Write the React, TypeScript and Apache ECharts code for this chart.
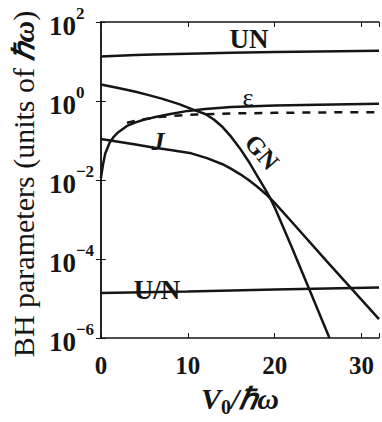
import React, { useEffect, useRef } from 'react';
import * as echarts from 'echarts';

// x positions (V0 / ħω) and values for each curve
const unV = [0, 2, 4, 6, 10, 15, 20, 25, 32];
const unVals = [13.4, 14.0, 14.6, 15.1, 15.8, 16.6, 17.3, 17.9, 18.6];

const uOverNV = [0, 10, 20, 32];
const uOverNVals = [1.38e-5, 1.51e-5, 1.68e-5, 1.9e-5];

const epsV = [0, 0.25, 0.5, 1, 1.5, 2, 3, 4, 5, 6, 8, 10, 12, 15, 20, 25, 32];
const epsVals = [0.0112, 0.0251, 0.0468, 0.0871, 0.126, 0.162, 0.234, 0.288, 0.339, 0.38, 0.468, 0.562, 0.631, 0.7, 0.767, 0.809, 0.851];

const dashV = [3, 4.5, 6.5, 9, 11, 15, 20, 25, 32];
const dashVals = [0.282, 0.331, 0.389, 0.432, 0.457, 0.484, 0.501, 0.513, 0.522];

const gnV = [0, 2, 4, 5.5, 7, 9, 10.4, 11, 12, 13, 14, 15, 16, 17, 18, 19, 19.5, 20, 20.5, 22, 24, 26.3];
const gnVals = [2.61, 2.14, 1.72, 1.41, 1.15, 0.832, 0.631, 0.562, 0.468, 0.339, 0.219, 0.123, 0.0631, 0.0295, 0.0126, 0.00537, 0.00339, 0.002, 0.00112, 1.905e-4, 1.66e-5, 1e-6];

const jV = [0, 2, 4, 6, 8, 10.4, 12.2, 14, 15, 16, 17, 18, 19, 20, 22, 26, 32];
const jVals = [0.1086, 0.0933, 0.0794, 0.0661, 0.0575, 0.0473, 0.0358, 0.0251, 0.01905, 0.01413, 0.01, 0.00676, 0.004365, 0.00263, 8.51e-4, 8.71e-5, 3.02e-6];

const xTicks = [0, 10, 20, 30];
const yTickExponents = [-6, -4, -2, 0, 2];

const SERIF = "'Liberation Serif', 'Times New Roman', serif";
const INK = '#151515';

const pairs = (xs: number[], ys: number[]) => xs.map((x, i) => [x, ys[i]]);

export default function App() {
  const ref = useRef<HTMLDivElement>(null);
  useEffect(() => {
    if (!ref.current) return;
    const chart = echarts.init(ref.current, undefined, { renderer: 'svg' });
    const lineBase = {
      type: 'line' as const,
      showSymbol: false,
      symbol: 'none',
      smooth: false,
      lineStyle: { color: INK, width: 2.5 },
      xAxisIndex: 0,
      yAxisIndex: 0,
    };
    const supText = (e: number) => (e < 0 ? '\u2212' + String(-e) : String(e));
    chart.setOption({
      animation: false,
      backgroundColor: '#ffffff',
      grid: { left: 97, top: 22, right: -2, bottom: 68, containLabel: false },
      xAxis: [
        {
          type: 'value',
          min: 0,
          max: 32,
          interval: 10,
          position: 'bottom',
          axisLine: { show: true, lineStyle: { color: INK, width: 1.5 } },
          axisTick: { show: true, inside: true, length: 5, lineStyle: { color: INK, width: 1 } },
          splitLine: { show: false },
          axisLabel: {
            margin: 15,
            fontFamily: SERIF,
            fontWeight: 'bold',
            fontSize: 25,
            color: INK,
            formatter: (v: number) => (xTicks.includes(v) ? String(v) : ''),
          },
          name: '{v|V}{sub|0}{v|/ℏω}',
          nameLocation: 'middle',
          nameGap: 41,
          nameTextStyle: {
            rich: {
              v: { fontFamily: SERIF, fontStyle: 'italic', fontWeight: 'bold', fontSize: 30, color: INK, lineHeight: 34, verticalAlign: 'bottom' },
              sub: { fontFamily: SERIF, fontWeight: 'bold', fontSize: 20, color: INK, lineHeight: 20, verticalAlign: 'bottom', padding: [0, 0, -4, 0] },
            },
          },
        },
        {
          type: 'value',
          min: 0,
          max: 32,
          interval: 10,
          position: 'top',
          axisLine: { show: true, lineStyle: { color: INK, width: 1.5 } },
          axisTick: { show: true, inside: true, length: 5, lineStyle: { color: INK, width: 1 } },
          axisLabel: { show: false },
          splitLine: { show: false },
        },
      ],
      yAxis: [
        {
          type: 'log',
          logBase: 10,
          min: 1e-6,
          max: 100,
          interval: 2,
          position: 'left',
          axisLine: { show: true, lineStyle: { color: INK, width: 1.5 } },
          axisTick: { show: true, inside: true, length: 5, lineStyle: { color: INK, width: 1 } },
          splitLine: { show: false },
          axisLabel: {
            align: 'left',
            margin: 52,
            formatter: (v: number) => {
              const e = Math.round(Math.log10(v));
              if (!yTickExponents.includes(e)) return '';
              return '{b|10}{s|' + supText(e) + '}';
            },
            rich: {
              b: { fontFamily: SERIF, fontWeight: 'bold', fontSize: 27, color: INK, lineHeight: 34, verticalAlign: 'bottom' },
              s: { fontFamily: SERIF, fontWeight: 'bold', fontSize: 17, color: INK, lineHeight: 17, verticalAlign: 'top' },
            },
          },
          name: '{n|BH parameters (units of }{h|ℏω}{n|)}',
          nameLocation: 'middle',
          nameGap: 60,
          nameTextStyle: {
            padding: [0, 8, 0, 0],
            rich: {
              n: { fontFamily: SERIF, fontSize: 30, color: INK },
              h: { fontFamily: SERIF, fontSize: 30, fontStyle: 'italic', fontWeight: 'bold', color: INK },
            },
          },
        },
        {
          type: 'log',
          logBase: 10,
          min: 1e-6,
          max: 100,
          interval: 2,
          position: 'right',
          axisLine: { show: true, lineStyle: { color: INK, width: 1.5 } },
          axisTick: { show: true, inside: true, length: 5, lineStyle: { color: INK, width: 1 } },
          axisLabel: { show: false },
          splitLine: { show: false },
        },
      ],
      series: [
        { ...lineBase, name: 'UN', data: pairs(unV, unVals) },
        { ...lineBase, name: 'U/N', data: pairs(uOverNV, uOverNVals) },
        { ...lineBase, name: 'ε', data: pairs(epsV, epsVals) },
        { ...lineBase, name: 'ε (dashed)', data: pairs(dashV, dashVals), lineStyle: { color: INK, width: 2.5, type: [8, 8] } },
        { ...lineBase, name: 'GN', data: pairs(gnV, gnVals) },
        { ...lineBase, name: 'J', data: pairs(jV, jVals) },
      ],
      graphic: [
        { type: 'text', x: 249, y: 39, style: { text: 'UN', font: `bold 27px ${SERIF}`, fill: INK, align: 'center', verticalAlign: 'middle' } },
        { type: 'text', x: 248, y: 97, style: { text: 'ε', font: `26px ${SERIF}`, fill: INK, align: 'center', verticalAlign: 'middle' } },
        { type: 'text', x: 158, y: 141, style: { text: 'J', font: `italic bold 26px ${SERIF}`, fill: INK, align: 'center', verticalAlign: 'middle' } },
        { type: 'text', x: 262, y: 152, rotation: -0.85, style: { text: 'GN', font: `bold 25px ${SERIF}`, fill: INK, align: 'center', verticalAlign: 'middle' } },
        { type: 'text', x: 157, y: 290, style: { text: 'U/N', font: `bold 27px ${SERIF}`, fill: INK, align: 'center', verticalAlign: 'middle' } },
      ],
    });
    return () => chart.dispose();
  }, []);
  return <div ref={ref} style={{ width: 382, height: 422, position: 'absolute', left: 0, top: 0 }} />;
}
